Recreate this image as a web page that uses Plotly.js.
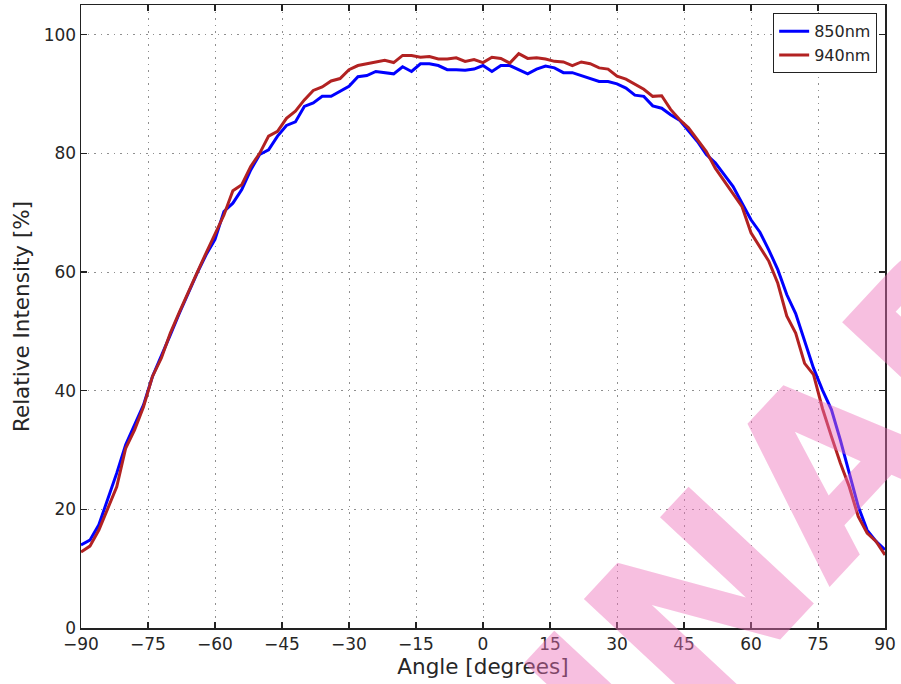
<!DOCTYPE html>
<html>
<head>
<meta charset="utf-8">
<script src="https://cdn.plot.ly/plotly-3.0.1.min.js"></script>
<style>html,body{margin:0;padding:0;background:#fff;}#chart{width:901px;height:684px;}</style>
</head>
<body>
<div id="chart"></div>
<script>
const angles = [-90,-88,-86,-84,-82,-80,-78,-76,-74,-72,-70,-68,-66,-64,-62,-60,-58,-56,-54,-52,-50,-48,-46,-44,-42,-40,-38,-36,-34,-32,-30,-28,-26,-24,-22,-20,-18,-16,-14,-12,-10,-8,-6,-4,-2,0,2,4,6,8,10,12,14,16,18,20,22,24,26,28,30,32,34,36,38,40,42,44,46,48,50,52,54,56,58,60,62,64,66,68,70,72,74,76,78,80,82,84,86,88,90];

const intensity850 = [14.0,14.8,17.4,21.6,26.1,30.9,34.2,37.6,42.4,45.8,49.4,53.0,56.5,59.8,62.9,65.5,70.2,71.6,73.9,77.2,79.8,80.6,82.9,84.7,85.3,87.9,88.5,89.6,89.6,90.4,91.3,92.9,93.1,93.8,93.6,93.4,94.6,93.8,95.1,95.1,94.8,94.1,94.1,94.0,94.2,94.8,93.8,94.8,94.8,94.1,93.4,94.2,94.7,94.4,93.6,93.6,93.1,92.5,92.1,92.1,91.7,91.0,89.8,89.6,88.0,87.6,86.5,85.6,83.7,82.0,79.8,78.4,76.4,74.4,71.6,68.8,66.7,63.7,60.4,56.2,53.0,48.3,43.8,40.1,36.8,31.7,26.1,20.5,16.5,14.6,13.2];

const intensity940 = [12.8,13.8,16.5,20.2,23.8,30.3,33.4,37.3,42.4,45.5,49.7,53.2,56.7,59.9,63.2,66.3,69.6,73.7,74.7,77.8,80.0,82.9,83.7,85.9,87.1,89.0,90.6,91.2,92.2,92.6,94.1,94.8,95.1,95.4,95.7,95.3,96.5,96.5,96.2,96.3,95.9,95.9,96.1,95.5,95.8,95.3,96.2,96.0,95.2,96.8,96.0,96.1,95.9,95.5,95.4,94.8,95.4,95.1,94.4,94.2,93.0,92.5,91.6,90.8,89.6,89.7,87.4,85.7,84.3,82.3,80.3,77.5,75.3,73.3,71.0,66.6,64.3,61.8,58.1,52.6,49.7,44.6,42.7,37.0,32.3,27.8,23.8,18.8,16.0,14.6,12.3];

const seriesNames = ["850nm", "940nm"];
const xTitle = "Angle [degrees]";
const yTitle = "Relative Intensity [%]";
const watermark = "PRELIMINARY";

const FONT = "DejaVu Sans, sans-serif";
const TXT = "#262626";

const traces = [
  {x: angles, y: intensity850, name: seriesNames[0], type: "scatter", mode: "lines",
   line: {color: "#0000ff", width: 3}},
  {x: angles, y: intensity940, name: seriesNames[1], type: "scatter", mode: "lines",
   line: {color: "#b22222", width: 3}}
];

const axisCommon = {
  showline: true, mirror: "ticks", linecolor: "#222222", linewidth: 1.5,
  ticks: "inside", ticklen: 6, tickwidth: 1.2, tickcolor: "#222222",
  showgrid: true, gridcolor: "#8f8f8f", griddash: "1.5px,5px", gridwidth: 1,
  zeroline: false, tickfont: {family: FONT, size: 17, color: TXT}
};

const layout = {
  width: 901, height: 684,
  margin: {l: 81, r: 16, t: 5, b: 56},
  paper_bgcolor: "#ffffff", plot_bgcolor: "#ffffff",
  font: {family: FONT, color: TXT},
  xaxis: Object.assign({}, axisCommon, {
    range: [-90, 90], tickmode: "linear", tick0: -90, dtick: 15,
    title: {text: xTitle, font: {family: FONT, size: 21.5, color: TXT}, standoff: 4}
  }),
  yaxis: Object.assign({}, axisCommon, {
    range: [0, 105], tickmode: "linear", tick0: 0, dtick: 20,
    title: {text: yTitle, font: {family: FONT, size: 21.5, color: TXT}, standoff: 8}
  }),
  showlegend: true,
  legend: {
    x: 0.990, y: 0.987, xanchor: "right", yanchor: "top",
    bgcolor: "#ffffff", bordercolor: "#222222", borderwidth: 1.2,
    font: {family: FONT, size: 16, color: TXT},
    itemwidth: 30, tracegroupgap: 0, entrywidth: 108, entrywidthmode: "pixels"
  },
  annotations: [{
    text: watermark, xref: "paper", yref: "paper", x: 0.540, y: -0.284,
    xanchor: "center", yanchor: "middle", showarrow: false, textangle: -47,
    font: {family: FONT, size: 235, weight: "bold", color: "rgba(237,113,186,0.45)"}
  }]
};

Plotly.newPlot("chart", traces, layout, {displayModeBar: false, staticPlot: true});
</script>
</body>
</html>
